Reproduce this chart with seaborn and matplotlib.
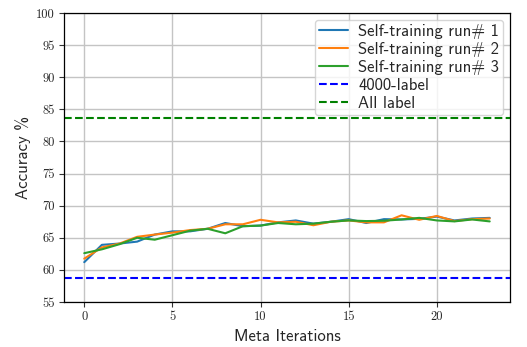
import matplotlib
matplotlib.use("Agg")
import matplotlib.pyplot as plt
import numpy as np
import pandas as pd
import seaborn as sns

# Accuracy per meta iteration for three self-training runs
iterations = list(range(24))
run1 = [61.2, 63.9, 64.1, 64.4, 65.5, 66.0, 66.0, 66.4, 67.3, 66.8, 66.9, 67.4,
        67.7, 67.2, 67.5, 67.9, 67.3, 67.9, 67.85, 67.95, 68.3, 67.7, 68.0, 68.1]
run2 = [61.75, 63.5, 64.1, 65.15, 65.5, 65.8, 66.2, 66.4, 67.1, 67.1, 67.8, 67.4,
        67.5, 66.95, 67.5, 67.7, 67.4, 67.4, 68.5, 67.8, 68.4, 67.6, 67.9, 68.0]
run3 = [62.6, 63.2, 64.0, 65.0, 64.7, 65.4, 66.1, 66.4, 65.7, 66.8, 66.9, 67.3,
        67.1, 67.2, 67.5, 67.7, 67.6, 67.65, 67.85, 68.1, 67.7, 67.55, 67.85, 67.55]
run_names = ["Self-training run# 1", "Self-training run# 2", "Self-training run# 3"]

# Supervised baselines
baseline_4000 = 58.8
baseline_all = 83.7

sns.set_style("whitegrid", {
    "axes.edgecolor": "black",
    "grid.color": "#c4c4c4",
    "xtick.bottom": True,
    "ytick.left": True,
})
plt.rcParams["font.family"] = ["cmss10", "DejaVu Sans"]
plt.rcParams["axes.unicode_minus"] = False

df = pd.DataFrame({
    "iter": iterations * 3,
    "acc": run1 + run2 + run3,
    "run": sum([[n] * len(iterations) for n in run_names], []),
})

fig = plt.figure(figsize=(5.27, 3.47), dpi=100)
ax = fig.add_axes([0.1214, 0.1297, 0.8463, 0.8328])

sns.lineplot(data=df, x="iter", y="acc", hue="run",
             palette=sns.color_palette("tab10", 3), linewidth=1.5, ax=ax)
ax.axhline(baseline_4000, color="b", linestyle="--", linewidth=1.5, label="4000-label")
ax.axhline(baseline_all, color="g", linestyle="--", linewidth=1.5, label="All label")

ax.set_ylim(55, 100)
ax.set_xlim(-1.15, 24.15)
ax.set_xticks([0, 5, 10, 15, 20])
ax.set_yticks(np.arange(55, 101, 5))
for lbl in ax.get_xticklabels() + ax.get_yticklabels():
    lbl.set_family("cmr10")
    lbl.set_fontsize(9)
ax.tick_params(length=3.5, width=0.8, color="#333333", pad=3)
for sp in ax.spines.values():
    sp.set_linewidth(0.9)

ax.set_xlabel("Meta Iterations", fontsize=12)
ax.set_ylabel("Accuracy %", fontsize=12)
ax.grid(True, linewidth=1.0)

handles, labels = ax.get_legend_handles_labels()
ax.legend(handles, labels, loc="upper right", fontsize=12, frameon=True,
          borderpad=0.25, labelspacing=0.18, handlelength=1.75, handletextpad=0.6,
          borderaxespad=0.4)

fig.savefig("out.png", dpi=100)
